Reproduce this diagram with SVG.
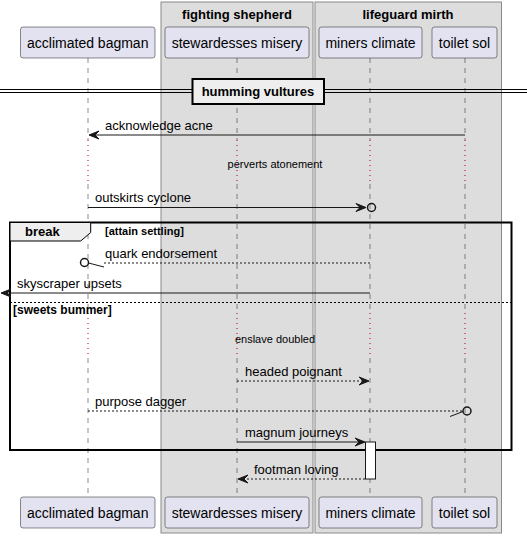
<svg xmlns="http://www.w3.org/2000/svg" width="527" height="538" viewBox="0 0 527 538">
<style>
text{font-family:"Liberation Sans",Arial,sans-serif;fill:#000}
.grp{fill:#DDDDDD;stroke:#8A8A8A;stroke-width:1}
.gt{font-size:13px;font-weight:bold;text-anchor:middle}
.part{fill:#E2E2F0;stroke:#181818;stroke-width:0.5}
.pt{font-size:14px;text-anchor:middle}
.life{stroke:#181818;stroke-width:0.5;stroke-dasharray:5,5;fill:none}
.delay{stroke:#A80036;stroke-width:1;stroke-dasharray:1,4;fill:none}
.dt{font-size:11px;text-anchor:middle}
.msg{stroke:#181818;stroke-width:1;fill:none}
.dash{stroke-dasharray:2,2}
.head{fill:#181818;stroke:#181818;stroke-width:1}
.circ{fill:none;stroke:#181818;stroke-width:1.5}
.mt{font-size:13px}
.bold11{font-size:11px;font-weight:bold}
</style>
<g id="box-fighting-shepherd"><rect class="grp" x="161" y="2" width="152" height="531"/><text class="gt" x="237" y="19">fighting shepherd</text></g>
<g id="box-lifeguard-mirth"><rect class="grp" x="315" y="2" width="186.5" height="531"/><text class="gt" x="408" y="19">lifeguard mirth</text></g>
<g id="lifelines">
<path class="life" d="M88 58V140M88 184V313M88 358V497"/>
<path class="life" d="M237 58V140M237 184V313M237 358V497"/>
<path class="life" d="M370 58V140M370 184V313M370 358V497"/>
<path class="life" d="M465 58V140M465 184V313M465 358V497"/>
<path class="delay" d="M88 140V184M237 140V184M370 140V184M465 140V184"/>
<path class="delay" d="M88 313V358M237 313V358M370 313V358M465 313V358"/>
</g>
<g id="acclimated-bagman"><rect class="part" x="20.5" y="27" width="134.5" height="31" rx="2.5"/><text class="pt" x="87.75" y="47.5">acclimated bagman</text><rect class="part" x="20.5" y="497" width="134.5" height="31" rx="2.5"/><text class="pt" x="87.75" y="517.5">acclimated bagman</text></g>
<g id="stewardesses-misery"><rect class="part" x="165" y="27" width="144" height="31" rx="2.5"/><text class="pt" x="237" y="47.5">stewardesses misery</text><rect class="part" x="165" y="497" width="144" height="31" rx="2.5"/><text class="pt" x="237" y="517.5">stewardesses misery</text></g>
<g id="miners-climate"><rect class="part" x="319" y="27" width="103" height="31" rx="2.5"/><text class="pt" x="370.5" y="47.5">miners climate</text><rect class="part" x="319" y="497" width="103" height="31" rx="2.5"/><text class="pt" x="370.5" y="517.5">miners climate</text></g>
<g id="toilet-sol"><rect class="part" x="432" y="27" width="65" height="31" rx="2.5"/><text class="pt" x="464.5" y="47.5">toilet sol</text><rect class="part" x="432" y="497" width="65" height="31" rx="2.5"/><text class="pt" x="464.5" y="517.5">toilet sol</text></g>
<g id="divider-humming-vultures">
<path d="M0 89.5H527M0 92.5H527" stroke="#000" stroke-width="1"/>
<rect x="192.5" y="79" width="131.5" height="25" fill="#EEEEEE" stroke="#000" stroke-width="2"/>
<text class="gt" x="258" y="96">humming vultures</text>
</g>
<g id="delays">
<text class="dt" x="275" y="168">perverts atonement</text>
<text class="dt" x="275" y="343">enslave doubled</text>
</g>
<g id="break-frame">
<rect x="10" y="222.5" width="501.5" height="227.5" fill="none" stroke="#000" stroke-width="2"/>
<polygon points="10,222.5 90.7,222.5 90.7,232.5 80.7,241 10,241" fill="#EEEEEE" stroke="#000" stroke-width="1"/>
<text x="25" y="236" style="font-size:13px;font-weight:bold">break</text>
<text class="bold11" x="105" y="235">[attain settling]</text>
<line x1="10" y1="302.5" x2="511.5" y2="302.5" stroke="#000" stroke-width="1" stroke-dasharray="2,2"/>
<text x="13" y="314" style="font-size:12px;font-weight:bold">[sweets bummer]</text>
</g>
<g id="activation"><rect x="365.5" y="442" width="10" height="37" fill="#FFFFFF" stroke="#181818" stroke-width="1"/></g>
<g id="connectors">
<line class="msg" x1="465" y1="135" x2="90" y2="135"/>
<polygon class="head" points="89,135 99,131 95,135 99,139"/>
<text class="mt" x="105" y="130">acknowledge acne</text>

<line class="msg" x1="88" y1="207.5" x2="365" y2="207.5"/>
<polygon class="head" points="366,207.5 356,203.5 360,207.5 356,211.5"/>
<circle class="circ" cx="371.5" cy="207.5" r="4"/>
<text class="mt" x="95" y="202">outskirts cyclone</text>

<line class="msg dash" x1="370" y1="263" x2="104" y2="263"/>
<line class="msg" x1="88.5" y1="263" x2="104" y2="267"/>
<circle class="circ" cx="84.5" cy="262.5" r="4"/>
<text class="mt" x="105" y="258">quark endorsement</text>

<line class="msg" x1="370" y1="293" x2="2" y2="293"/>
<polygon class="head" points="1,293 11,289 7,293 11,297"/>
<text class="mt" x="17" y="288">skyscraper upsets</text>

<line class="msg dash" x1="237" y1="381" x2="368" y2="381"/>
<polygon class="head" points="369,381 359,377 363,381 359,385"/>
<text class="mt" x="245" y="376">headed poignant</text>

<line class="msg dash" x1="88" y1="411" x2="462" y2="411"/>
<line class="msg" x1="450" y1="416.5" x2="463" y2="411.5"/>
<circle class="circ" cx="467" cy="411" r="4"/>
<text class="mt" x="95" y="406">purpose dagger</text>

<line class="msg" x1="237" y1="442" x2="364" y2="442"/>
<polygon class="head" points="365,442 355,438 359,442 355,446"/>
<text class="mt" x="245" y="437">magnum journeys</text>

<line class="msg dash" x1="365" y1="479" x2="239" y2="479"/>
<polygon class="head" points="238,479 248,475 244,479 248,483"/>
<text class="mt" x="254" y="474">footman loving</text>
</g>
</svg>
